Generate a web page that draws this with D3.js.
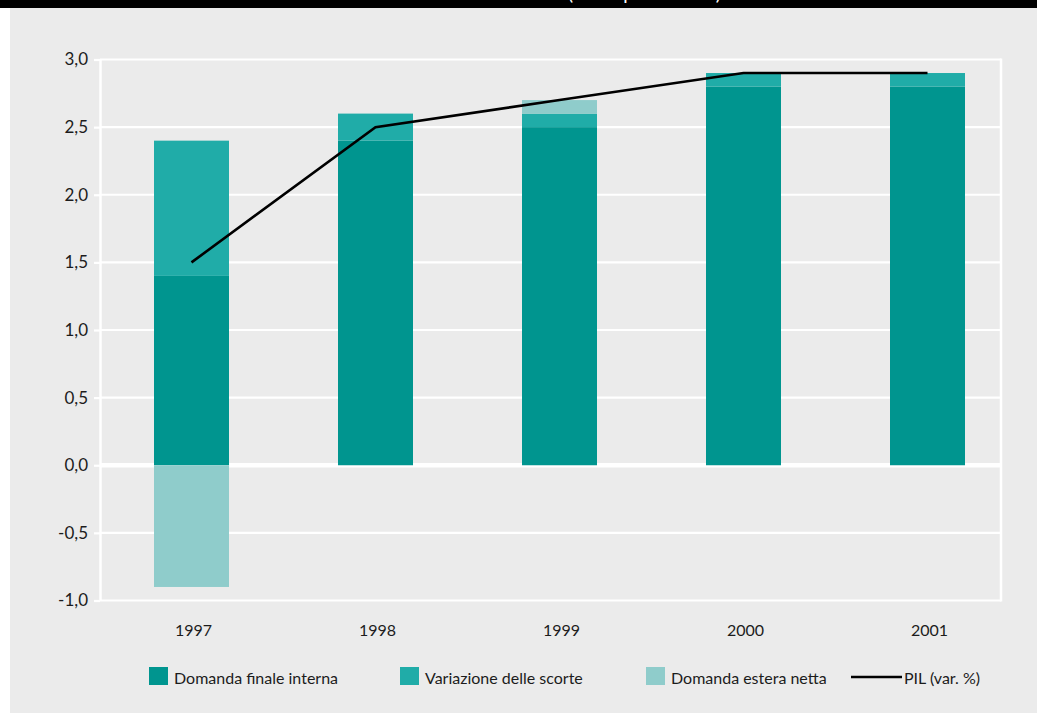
<!DOCTYPE html>
<html>
<head>
<meta charset="utf-8">
<script src="https://cdn.jsdelivr.net/npm/d3@7"></script>
<style>
    body { margin: 0; background: #fff; }
    text { font-family: Lato, "Open Sans", sans-serif; fill: #1c1c1c; }
</style>
</head>
<body>
<svg id="chart"></svg>
<script>
const years = ["1997", "1998", "1999", "2000", "2001"];
const domandaInterna = [1.4, 2.4, 2.5, 2.8, 2.8];
const variazioneScorte = [1.0, 0.2, 0.1, 0.1, 0.1];
const domandaEstera = [-0.9, 0.0, 0.1, 0.0, 0.0];
const pil = [1.5, 2.5, 2.7, 2.9, 2.9];
const yTicks = [-1, -0.5, 0, 0.5, 1, 1.5, 2, 2.5, 3];

const seriesNames = ["Domanda finale interna", "Variazione delle scorte", "Domanda estera netta"];
const seriesColors = ["#00958f", "#20aca8", "#8fcccb"];
const lineName = "PIL (var. %)";
const titleText = "Contributi alla crescita del PIL (valori percentuali)";

class StackedBarLine {
    constructor(svg, width = 1037, height = 713) {
        this.svg = d3.select(svg);
        this.width = width;
        this.height = height;
        this.plot = { left: 100, right: 1001, top: 59.5, bottom: 600.5 };
    }

    initialize() {
        this.svg.attr("width", this.width).attr("height", this.height);

        this.rows = years.map((y, i) => ({
            year: y,
            [seriesNames[0]]: domandaInterna[i],
            [seriesNames[1]]: variazioneScorte[i],
            [seriesNames[2]]: domandaEstera[i],
            pil: pil[i]
        }));

        this.x = d3.scalePoint()
            .domain(years)
            .range([99.5, 1019.5])
            .padding(0.5);

        this.y = d3.scaleLinear()
            .domain([-1, 3])
            .range([this.plot.bottom, this.plot.top]);

        this.color = d3.scaleOrdinal().domain(seriesNames).range(seriesColors);

        this.drawBackground();
        this.drawGrid();
        this.drawBars();
        this.drawLine();
        this.drawAxes();
        this.addLegend();
    }

    drawBackground() {
        this.svg.append("rect")
            .attr("x", 10).attr("y", 0)
            .attr("width", this.width - 10).attr("height", this.height)
            .attr("fill", "#ebebeb");

        this.svg.append("rect")
            .attr("x", 0).attr("y", 0)
            .attr("width", this.width).attr("height", 8)
            .attr("fill", "#000");

        // title sits above the page in the original, only descenders show
        this.svg.append("text")
            .attr("x", this.width / 2)
            .attr("y", 0)
            .attr("text-anchor", "middle")
            .style("font-size", "19px")
            .style("fill", "#fff")
            .text(titleText);
    }

    drawGrid() {
        const { left, right } = this.plot;
        this.svg.append("g")
            .selectAll("line")
            .data(yTicks)
            .join("line")
            .attr("x1", left).attr("x2", right)
            .attr("y1", d => this.y(d)).attr("y2", d => this.y(d))
            .attr("stroke", "#fff")
            .attr("stroke-width", d => d === 0 ? 4.5 : 2.2);

        this.svg.append("line")
            .attr("x1", right).attr("x2", right)
            .attr("y1", this.plot.top - 1).attr("y2", this.plot.bottom + 1)
            .attr("stroke", "#fff")
            .attr("stroke-width", 2.5);
    }

    drawBars() {
        const stack = d3.stack()
            .keys(seriesNames)
            .offset(d3.stackOffsetDiverging);
        const layers = stack(this.rows);
        const barWidth = 75;

        this.svg.append("g")
            .selectAll("g")
            .data(layers)
            .join("g")
            .attr("fill", d => this.color(d.key))
            .selectAll("rect")
            .data(d => d)
            .join("rect")
            .attr("x", d => this.x(d.data.year) - barWidth / 2)
            .attr("width", barWidth)
            .attr("y", d => this.y(Math.max(d[0], d[1])))
            .attr("height", d => Math.abs(this.y(d[0]) - this.y(d[1])));
    }

    drawLine() {
        const line = d3.line()
            .x(d => this.x(d.year))
            .y(d => this.y(d.pil));

        this.svg.append("path")
            .datum(this.rows)
            .attr("d", line)
            .attr("fill", "none")
            .attr("stroke", "#000")
            .attr("stroke-width", 2.6);
    }

    drawAxes() {
        const it = d3.formatLocale({ decimal: ",", thousands: ".", grouping: [3], currency: ["", "€"], minus: "-" });
        const fmt = it.format(".1f");

        const yAxis = this.svg.append("g")
            .attr("transform", `translate(${this.plot.left},0)`)
            .call(d3.axisLeft(this.y).tickValues(yTicks).tickFormat(fmt).tickSize(6).tickSizeOuter(0).tickPadding(6));
        yAxis.select(".domain").attr("stroke", "#fff").attr("stroke-width", 2.5);
        yAxis.selectAll(".tick line").attr("stroke", "#fff").attr("stroke-width", 2.2);
        yAxis.selectAll(".tick text")
            .style("font-size", "17px")
            .style("font-family", "Lato, sans-serif")
            .attr("fill", "#1c1c1c");

        this.svg.append("g")
            .selectAll("text")
            .data(years)
            .join("text")
            .attr("x", d => this.x(d) + 2)
            .attr("y", 636)
            .attr("text-anchor", "middle")
            .style("font-size", "16px")
            .text(d => d);
    }

    addLegend() {
        const items = [
            { name: seriesNames[0], x: 149 },
            { name: seriesNames[1], x: 400 },
            { name: seriesNames[2], x: 646 }
        ];
        const legend = this.svg.append("g").attr("class", "legend");

        const item = legend.selectAll(".legend-item")
            .data(items)
            .join("g")
            .attr("class", "legend-item")
            .attr("transform", d => `translate(${d.x},667)`);

        item.append("rect")
            .attr("width", 19)
            .attr("height", 18)
            .attr("fill", d => this.color(d.name));

        item.append("text")
            .attr("x", 25)
            .attr("y", 17)
            .style("font-size", "16px")
            .text(d => d.name);

        legend.append("line")
            .attr("x1", 851).attr("x2", 902)
            .attr("y1", 677).attr("y2", 677)
            .attr("stroke", "#000")
            .attr("stroke-width", 2.6);

        legend.append("text")
            .attr("x", 904)
            .attr("y", 684)
            .style("font-size", "16px")
            .text(lineName);
    }
}

const chart = new StackedBarLine(document.getElementById("chart"));
chart.initialize();
</script>
</body>
</html>
